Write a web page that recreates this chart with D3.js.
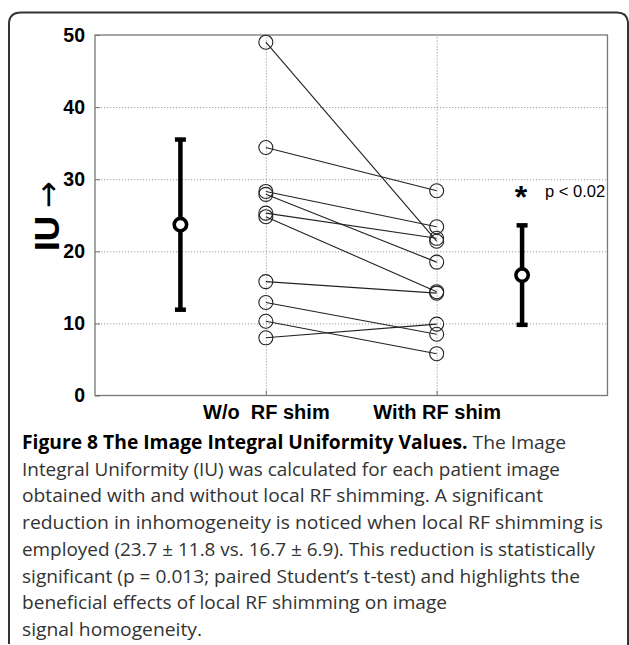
<!DOCTYPE html>
<html>
<head>
<meta charset="utf-8">
<script src="https://cdn.jsdelivr.net/npm/d3@7"></script>
<style>
  html, body { margin: 0; padding: 0; background: #fff; }
  svg { display: block; }
  text { white-space: pre; }
</style>
</head>
<body>
<svg id="chart" width="629" height="645"></svg>
<script>
// Image Integral Uniformity (IU) per patient, without and with local RF shimming
const groupLabels = ["W/o  RF shim", "With RF shim"];
const withoutShim = [49.0, 34.4, 28.3, 27.9, 25.3, 24.8, 15.8, 12.9, 10.3, 8.0];
const withShim    = [21.4, 28.4, 23.4, 18.5, 21.8, 14.4, 14.2, 8.5, 5.8, 9.9];
const groupMeans  = [23.7, 16.7];
const groupSDs    = [11.8, 6.9];
const yTicks      = [0, 10, 20, 30, 40, 50];
const yLabel      = "IU";
const pText       = "p < 0.02";

const captionBold = "Figure 8 The Image Integral Uniformity Values.";
const captionLines = [
  " The Image",
  "Integral Uniformity (IU) was calculated for each patient image",
  "obtained with and without local RF shimming. A significant",
  "reduction in inhomogeneity is noticed when local RF shimming is",
  "employed (23.7 \u00b1 11.8 vs. 16.7 \u00b1 6.9). This reduction is statistically",
  "significant (p = 0.013; paired Student\u2019s t-test) and highlights the",
  "beneficial effects of local RF shimming on image",
  "signal homogeneity."
];

const svg = d3.select("#chart");

// outer rounded frame (open at the bottom)
svg.append("path")
  .attr("d", "M9,644 V24 Q9,12.5 21,12.5 H617 Q627,12.5 628,22 V660")
  .attr("fill", "none")
  .attr("stroke", "#333")
  .attr("stroke-width", 2);

const plot = { left: 95, right: 607.5, top: 35, bottom: 395.5 };

// x: summaries at 1 and 5, paired columns at 2 and 4
const x = d3.scaleLinear().domain([0, 6]).range([plot.left, plot.right]);
const y = d3.scaleLinear().domain([0, 50]).range([plot.bottom, plot.top]);
const pairX = [2, 4];
const summaryX = [1, 5];

const g = svg.append("g");

// horizontal grid
g.append("g")
  .attr("transform", `translate(${plot.left},0)`)
  .call(d3.axisLeft(y).tickValues(yTicks.slice(1, -1)).tickSize(-(plot.right - plot.left)).tickFormat(""))
  .call(s => s.select(".domain").remove())
  .selectAll("line")
  .attr("stroke", "#9a9a9a")
  .attr("stroke-dasharray", "1.2,1.8");

// vertical grid at the paired columns
g.append("g")
  .attr("transform", `translate(0,${plot.bottom})`)
  .call(d3.axisBottom(x).tickValues(pairX).tickSize(-(plot.bottom - plot.top)).tickFormat(""))
  .call(s => s.select(".domain").remove())
  .selectAll("line")
  .attr("stroke", "#9a9a9a")
  .attr("stroke-dasharray", "1.2,1.8");

// plot box
g.append("rect")
  .attr("x", plot.left).attr("y", plot.top)
  .attr("width", plot.right - plot.left).attr("height", plot.bottom - plot.top)
  .attr("fill", "none").attr("stroke", "#777").attr("stroke-width", 1.3);

// y axis: inward ticks and bold labels
const yAxis = g.append("g")
  .attr("transform", `translate(${plot.left},0)`)
  .call(d3.axisLeft(y).tickValues(yTicks).tickSize(-5).tickPadding(10));
yAxis.select(".domain").remove();
yAxis.selectAll("line").attr("stroke", "#777");
yAxis.selectAll("text")
  .attr("font-family", "Liberation Sans, Arial, sans-serif")
  .attr("font-weight", "bold")
  .attr("font-size", 19.5)
  .attr("fill", "#000");

// x axis: inward ticks and group labels
const xAxis = g.append("g")
  .attr("transform", `translate(0,${plot.bottom})`)
  .call(d3.axisBottom(x).tickValues(pairX).tickSize(-5).tickPadding(9)
    .tickFormat((d, i) => groupLabels[i]));
xAxis.select(".domain").remove();
xAxis.selectAll("line").attr("stroke", "#777");
xAxis.selectAll("text")
  .attr("font-family", "Liberation Sans, Arial, sans-serif")
  .attr("font-weight", "bold")
  .attr("font-size", 20)
  .attr("fill", "#000");

// y axis title, rotated
const yTitle = svg.append("text")
  .attr("transform", `translate(59,216) rotate(-90)`)
  .attr("text-anchor", "middle")
  .attr("fill", "#000");
yTitle.append("tspan")
  .attr("font-family", "Liberation Sans, Arial, sans-serif")
  .attr("font-weight", "bold")
  .attr("font-size", 35)
  .text(yLabel);
yTitle.append("tspan")
  .attr("font-family", "DejaVu Sans, sans-serif")
  .attr("font-size", 32)
  .attr("dx", 8)
  .text("\u2192");

// paired patient lines
const pairs = withoutShim.map((v, i) => [v, withShim[i]]);
g.append("g").selectAll("line")
  .data(pairs)
  .join("line")
  .attr("x1", x(pairX[0])).attr("y1", d => y(d[0]))
  .attr("x2", x(pairX[1])).attr("y2", d => y(d[1]))
  .attr("stroke", "#222")
  .attr("stroke-width", 1.1);

// patient markers
[withoutShim, withShim].forEach((vals, k) => {
  g.append("g").selectAll("circle")
    .data(vals)
    .join("circle")
    .attr("cx", x(pairX[k]))
    .attr("cy", d => y(d))
    .attr("r", 7)
    .attr("fill", "none")
    .attr("stroke", "#222")
    .attr("stroke-width", 1.1);
});

// mean +/- SD summaries
const summary = g.append("g");
groupMeans.forEach((m, k) => {
  const cx = x(summaryX[k]);
  const lo = m - groupSDs[k], hi = m + groupSDs[k];
  summary.append("line")
    .attr("x1", cx).attr("x2", cx)
    .attr("y1", y(lo)).attr("y2", y(hi))
    .attr("stroke", "#000").attr("stroke-width", 4.5);
  [lo, hi].forEach(v => {
    summary.append("line")
      .attr("x1", cx - 5.5).attr("x2", cx + 5.5)
      .attr("y1", y(v)).attr("y2", y(v))
      .attr("stroke", "#000").attr("stroke-width", 4.5);
  });
  summary.append("circle")
    .attr("cx", cx).attr("cy", y(m)).attr("r", 6.2)
    .attr("fill", "#fff")
    .attr("stroke", "#000").attr("stroke-width", 3.6);
});

// significance marker
svg.append("text")
  .attr("x", x(summaryX[1]) - 1)
  .attr("y", y(28.4) + 17)
  .attr("text-anchor", "middle")
  .attr("font-family", "Liberation Sans, Arial, sans-serif")
  .attr("font-weight", "bold")
  .attr("font-size", 32)
  .attr("fill", "#000")
  .text("*");
svg.append("text")
  .attr("x", 545)
  .attr("y", y(28.4) + 6)
  .attr("font-family", "Liberation Sans, Arial, sans-serif")
  .attr("font-size", 16.5)
  .attr("fill", "#000")
  .text(pText);

// caption
const capX = 22, capY0 = 449, capLH = 26.7;
const capWidths = [544, 538, 521, 581, 573, 558, 425, 180];
const cap = svg.append("g")
  .attr("font-family", "Open Sans, Noto Sans, sans-serif")
  .attr("font-size", 19)
  .attr("fill", "#333");
captionLines.forEach((line, i) => {
  const t = cap.append("text")
    .attr("x", capX)
    .attr("y", capY0 + i * capLH)
    .attr("textLength", capWidths[i])
    .attr("lengthAdjust", "spacingAndGlyphs");
  if (i === 0) {
    t.append("tspan").attr("font-weight", "bold").attr("fill", "#000").text(captionBold);
  }
  t.append("tspan").text(line);
});
</script>
</body>
</html>
